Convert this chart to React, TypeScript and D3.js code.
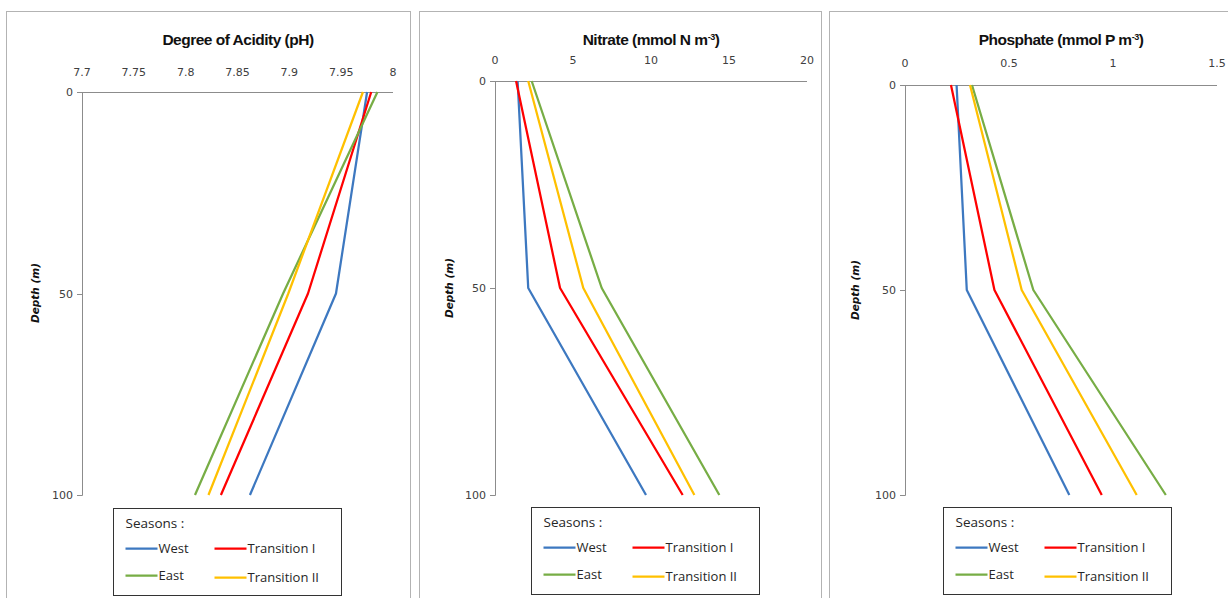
import React from "react";
import * as d3 from "d3";

const depths = [0, 50, 100];
const depthTicks = [0, 50, 100];
const seasons = ["West", "Transition I", "East", "Transition II"];
const seasonColors = ["#3d78c0", "#ff0000", "#77ad45", "#ffc000"];

const phWest = [7.975, 7.945, 7.862];
const phTransI = [7.979, 7.918, 7.834];
const phEast = [7.985, 7.894, 7.809];
const phTransII = [7.971, 7.899, 7.822];
const phTicks = [7.7, 7.75, 7.8, 7.85, 7.9, 7.95, 8];

const no3West = [1.45, 2.13, 9.68];
const no3TransI = [1.35, 4.17, 12.03];
const no3East = [2.35, 6.84, 14.38];
const no3TransII = [2.13, 5.66, 12.78];
const no3Ticks = [0, 5, 10, 15, 20];

const po4West = [0.248, 0.297, 0.79];
const po4TransI = [0.221, 0.43, 0.946];
const po4East = [0.322, 0.617, 1.254];
const po4TransII = [0.3125, 0.561, 1.114];
const po4Ticks = [0, 0.5, 1, 1.5];

type Panel = {
  title: React.ReactNode;
  frame: [number, number];
  xRange: [number, number];
  yRange: [number, number];
  domain: [number, number];
  ticks: number[];
  tickBase: number;
  titleX: number;
  depthX: number;
  depthY: number;
  legend: [number, number];
  series: number[][];
};

const sup = (u: string) => (
  <>
    {u}
    <tspan baselineShift="super" fontSize="9">-3</tspan>
    <tspan>)</tspan>
  </>
);

const panels: Panel[] = [
  {
    title: "Degree of Acidity (pH)",
    frame: [6.5, 410.5],
    xRange: [82, 393],
    yRange: [92, 495],
    domain: [7.7, 8],
    ticks: phTicks,
    tickBase: 76,
    titleX: 238,
    depthX: 35,
    depthY: 293,
    legend: [113.5, 508.5],
    series: [phWest, phTransI, phEast, phTransII],
  },
  {
    title: sup("Nitrate (mmol N m"),
    frame: [419.5, 821.5],
    xRange: [495, 807],
    yRange: [81, 495],
    domain: [0, 20],
    ticks: no3Ticks,
    tickBase: 64,
    titleX: 651,
    depthX: 449,
    depthY: 288,
    legend: [531.5, 507.5],
    series: [no3West, no3TransI, no3East, no3TransII],
  },
  {
    title: sup("Phosphate (mmol P m"),
    frame: [829.5, 1240],
    xRange: [905, 1217],
    yRange: [85, 495],
    domain: [0, 1.5],
    ticks: po4Ticks,
    tickBase: 67,
    titleX: 1061,
    depthX: 855,
    depthY: 290,
    legend: [943.5, 507.5],
    series: [po4West, po4TransI, po4East, po4TransII],
  },
];

const tickFont = "'DejaVu Sans', Verdana, sans-serif";
const legendFont = "'Open Sans', 'Noto Sans', sans-serif";
const axisColor = "#8c8c8c";
const textColor = "#404040";

function PanelView({ p }: { p: Panel }) {
  const x = d3.scaleLinear().domain(p.domain).range(p.xRange);
  const y = d3.scaleLinear().domain([0, 100]).range(p.yRange);
  const line = d3
    .line<number>()
    .x((v) => x(v))
    .y((_, i) => y(depths[i]));
  const [lx, ly] = p.legend;
  const legendItems = [
    { name: seasons[0], c: seasonColors[0], dx: 12, dy: 40 },
    { name: seasons[1], c: seasonColors[1], dx: 101, dy: 40 },
    { name: seasons[2], c: seasonColors[2], dx: 12, dy: 67 },
    { name: seasons[3], c: seasonColors[3], dx: 101, dy: 69 },
  ];
  return (
    <g>
      <rect
        x={p.frame[0]}
        y={11.5}
        width={p.frame[1] - p.frame[0]}
        height={620}
        fill="#fff"
        stroke="#b3b3b3"
        strokeWidth={1}
      />
      <text
        x={p.titleX}
        y={44.5}
        textAnchor="middle"
        fontFamily="'Liberation Sans', Arial, sans-serif"
        fontWeight="bold"
        fontSize={15.5}
        letterSpacing={-0.5}
        fill="#111"
      >
        {p.title}
      </text>
      {/* top x axis */}
      <line
        x1={p.xRange[0]}
        x2={p.xRange[1]}
        y1={p.yRange[0] + 0.5}
        y2={p.yRange[0] + 0.5}
        stroke={axisColor}
      />
      {p.ticks.map((t) => (
        <text
          key={t}
          x={x(t)}
          y={p.tickBase}
          textAnchor="middle"
          fontFamily={tickFont}
          fontSize={11}
          fill={textColor}
        >
          {String(t)}
        </text>
      ))}
      {/* y axis */}
      <line
        x1={p.xRange[0] + 0.5}
        x2={p.xRange[0] + 0.5}
        y1={p.yRange[0]}
        y2={p.yRange[1] + 0.5}
        stroke={axisColor}
      />
      {depthTicks.map((t) => (
        <g key={t}>
          <line
            x1={p.xRange[0] - 5}
            x2={p.xRange[0] + 0.5}
            y1={Math.round(y(t)) + 0.5}
            y2={Math.round(y(t)) + 0.5}
            stroke={axisColor}
          />
          <text
            x={p.xRange[0] - 9}
            y={y(t) + 4}
            textAnchor="end"
            fontFamily={tickFont}
            fontSize={11}
            fill={textColor}
          >
            {t}
          </text>
        </g>
      ))}
      <text
        transform={`translate(${p.depthX + 4},${p.depthY}) rotate(-90)`}
        textAnchor="middle"
        fontFamily={tickFont}
        fontWeight="bold"
        fontStyle="italic"
        fontSize={10.5}
        fill="#111"
      >
        Depth (m)
      </text>
      {p.series.map((s, i) => (
        <path
          key={i}
          d={line(s) || ""}
          fill="none"
          stroke={seasonColors[i]}
          strokeWidth={2.25}
          strokeLinejoin="round"
        />
      ))}
      {/* legend */}
      <rect x={lx} y={ly} width={228} height={87} fill="#fff" stroke="#333" strokeWidth={1} />
      <text x={lx + 12} y={ly + 19.5} fontFamily={legendFont} fontSize={13.5} fill="#262626">
        Seasons :
      </text>
      {legendItems.map((it) => (
        <g key={it.name}>
          <line
            x1={lx + it.dx}
            x2={lx + it.dx + 32}
            y1={ly + it.dy}
            y2={ly + it.dy}
            stroke={it.c}
            strokeWidth={2.25}
          />
          <text
            x={lx + it.dx + 33}
            y={ly + it.dy + 4.5}
            fontFamily={legendFont}
            fontSize={13}
            fill="#262626"
          >
            {it.name}
          </text>
        </g>
      ))}
    </g>
  );
}

export default function App() {
  return (
    <div style={{ position: "absolute", left: 0, top: 0, width: 1228, height: 598, overflow: "hidden" }}>
      <svg width={1228} height={598} style={{ display: "block", background: "#fff" }}>
        <rect width={1228} height={598} fill="#fff" />
        {panels.map((p, i) => (
          <PanelView key={i} p={p} />
        ))}
      </svg>
    </div>
  );
}
